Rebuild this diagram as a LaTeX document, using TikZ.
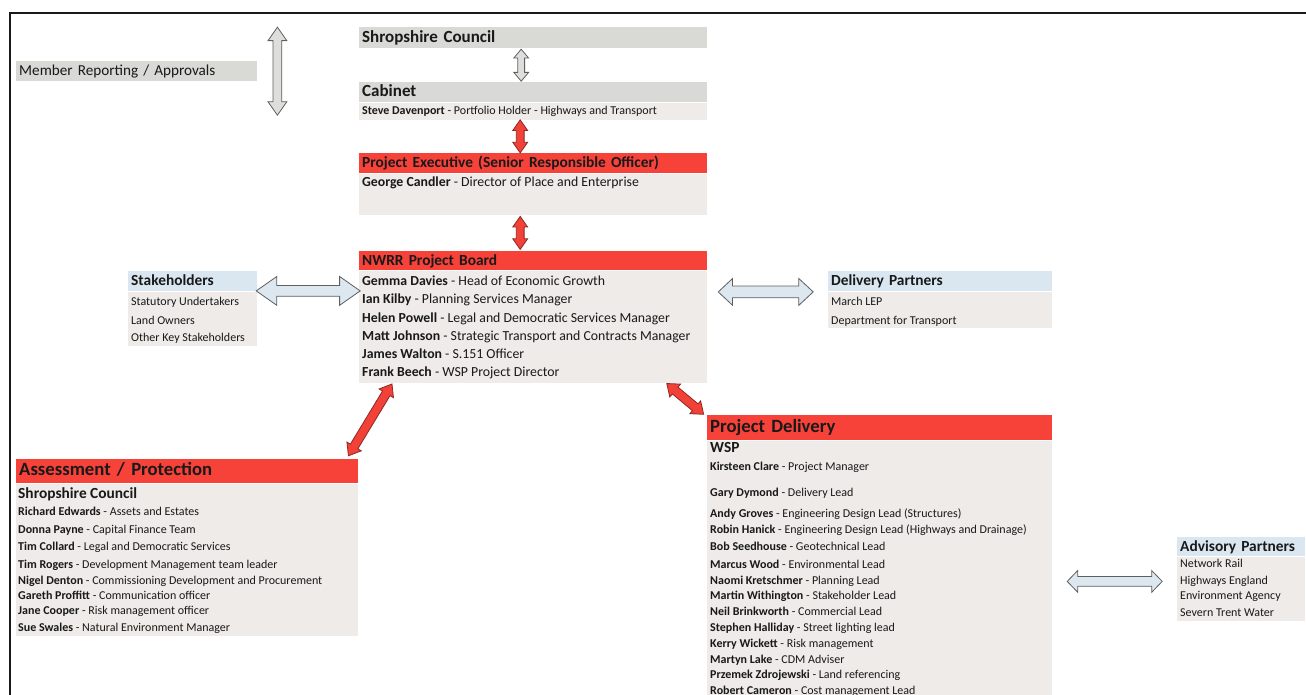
\documentclass[tikz,border=0pt]{standalone}
\usepackage{fontspec}
\setmainfont{Carlito}
\usetikzlibrary{shapes.arrows,calc,positioning}

\definecolor{hdrred}{RGB}{247,66,58}
\definecolor{hdrgray}{RGB}{217,217,214}
\definecolor{hdrblue}{RGB}{218,231,241}
\definecolor{bodygray}{RGB}{238,235,232}
\definecolor{arrred}{RGB}{242,66,56}
\definecolor{arrredline}{RGB}{140,40,35}
\definecolor{arrgray}{RGB}{222,222,220}
\definecolor{arrblue}{RGB}{220,231,240}
\definecolor{arrline}{RGB}{95,95,95}
\definecolor{ink}{RGB}{25,25,25}

\newcommand{\who}[2]{\textbf{#1} - #2}

\tikzset{
  hdr/.style={anchor=north west, inner xsep=3pt, inner ysep=0pt, text height=0.92em, text depth=0pt, align=left, text=ink},
  body/.style={anchor=north west, fill=bodygray, inner sep=0pt},
  entry/.style={anchor=west, inner sep=0pt, text height=0.8em, text depth=0pt, text=ink},
  ftop/.style={font=\fontsize{17}{20}\selectfont\bfseries},
  fbig/.style={font=\fontsize{18.7}{22}\selectfont\bfseries},
  fhead/.style={font=\fontsize{15.4}{18}\selectfont\bfseries},
  fmid/.style={font=\fontsize{13.8}{16}\selectfont},
  fsmall/.style={font=\fontsize{12}{14}\selectfont},
  blockarrow/.style={double arrow, inner xsep=0pt, minimum width=0pt, line width=0.8pt},
  grayarrow/.style={blockarrow, fill=arrgray, draw=arrline},
  redarrow/.style={blockarrow, fill=arrred, draw=arrredline},
  bluearrow/.style={blockarrow, fill=arrblue, draw=arrline}
}

\begin{document}
\begin{tikzpicture}[x=1pt,y=-1pt]
\useasboundingbox (0,0) rectangle (1306,695);
\draw[line width=1.6pt, ink] (10,695) -- (10,13) -- (1306,13);

% governance column
\node[hdr, fill=hdrgray, text width=235pt, minimum height=20pt, font=\fontsize{15.2}{18}\selectfont] (member) at (16,61) {Member Reporting / Approvals};
\node[hdr, ftop, fill=hdrgray, text width=342pt, minimum height=21pt] (council) at (359,27) {Shropshire Council};
\node[hdr, ftop, fill=hdrgray, text width=342pt, minimum height=20pt] (cabinet) at (359,82) {Cabinet};
\node[body, minimum width=348pt, minimum height=17pt] (cabbody) at (cabinet.south west) {};
\node[entry, fsmall] (cab1) at (362,111) {\who{Steve Davenport}{Portfolio Holder - Highways and Transport}};

\node[hdr, fhead, fill=hdrred, text width=342pt, minimum height=20pt] (pe) at (359,153) {Project Executive (Senior Responsible Officer)};
\node[body, minimum width=348pt, minimum height=41pt] (pebody) at (pe.south west) {};
\node[entry, fmid] (pe1) at (362,183) {\who{George Candler}{Director of Place and Enterprise}};

% project board
\node[hdr, fhead, fill=hdrred, text width=342pt, minimum height=19pt] (board) at (359,251) {NWRR Project Board};
\node[body, minimum width=348pt, minimum height=112pt] (pbbody) at (board.south west) {};
\node[entry, fmid] (pb1) at (362,281) {\who{Gemma Davies}{Head of Economic Growth}};
\node[entry, fmid] (pb2) at (362,299) {\who{Ian Kilby}{Planning Services Manager}};
\node[entry, fmid] (pb3) at (362,318) {\who{Helen Powell}{Legal and Democratic Services Manager}};
\node[entry, fmid] (pb4) at (362,336) {\who{Matt Johnson}{Strategic Transport and Contracts Manager}};
\node[entry, fmid] (pb5) at (362,354) {\who{James Walton}{S.151 Officer}};
\node[entry, fmid] (pb6) at (362,372) {\who{Frank Beech}{WSP Project Director}};

% stakeholders
\node[hdr, fhead, fill=hdrblue, text width=123pt, minimum height=20pt] (stake) at (128,271) {Stakeholders};
\node[body, minimum width=129pt, minimum height=54pt] (shbody) at (stake.south west) {};
\node[entry, fsmall] (sh1) at (131,301) {Statutory Undertakers};
\node[entry, fsmall] (sh2) at (131,320) {Land Owners};
\node[entry, fsmall] (sh3) at (131,337) {Other Key Stakeholders};

% delivery partners
\node[hdr, fhead, fill=hdrblue, text width=218pt, minimum height=20pt] (deliv) at (828,271) {Delivery Partners};
\node[body, minimum width=224pt, minimum height=36pt] (dpbody) at (deliv.south west) {};
\node[entry, fsmall] (dp1) at (831,301) {March LEP};
\node[entry, fsmall] (dp2) at (831,320) {Department for Transport};

% assessment / protection
\node[hdr, fbig, fill=hdrred, text width=336pt, minimum height=24pt] (ap) at (16,459) {Assessment / Protection};
\node[body, minimum width=342pt, minimum height=152pt] (apbody) at (ap.south west) {};
\node[entry, fhead] (ap0) at (18,494) {Shropshire Council};
\node[entry, fsmall] (ap1) at (18,511) {\who{Richard Edwards}{Assets and Estates}};
\node[entry, fsmall] (ap2) at (18,529) {\who{Donna Payne}{Capital Finance Team}};
\node[entry, fsmall] (ap3) at (18,546) {\who{Tim Collard}{Legal and Democratic Services}};
\node[entry, fsmall] (ap4) at (18,564) {\who{Tim Rogers}{Development Management team leader}};
\node[entry, fsmall] (ap5) at (18,580) {\who{Nigel Denton}{Commissioning Development and Procurement}};
\node[entry, fsmall] (ap6) at (18,595) {\who{Gareth Proffitt}{Communication officer}};
\node[entry, fsmall] (ap7) at (18,610) {\who{Jane Cooper}{Risk management officer}};
\node[entry, fsmall] (ap8) at (18,627) {\who{Sue Swales}{Natural Environment Manager}};

% project delivery
\node[hdr, fbig, fill=hdrred, text width=339pt, minimum height=25pt] (pd) at (707,415) {Project Delivery};
\node[body, minimum width=345pt, minimum height=256pt] (pdbody) at (pd.south west) {};
\node[entry, fhead] (pd0) at (710,448) {WSP};
\node[entry, fsmall] (pd1) at (710,466) {\who{Kirsteen Clare}{Project Manager}};
\node[entry, fsmall] (pd2) at (710,492) {\who{Gary Dymond}{Delivery Lead}};
\node[entry, fsmall] (pd3) at (710,513) {\who{Andy Groves}{Engineering Design Lead (Structures)}};
\node[entry, fsmall] (pd4) at (710,529) {\who{Robin Hanick}{Engineering Design Lead (Highways and Drainage)}};
\node[entry, fsmall] (pd5) at (710,546) {\who{Bob Seedhouse}{Geotechnical Lead}};
\node[entry, fsmall] (pd6) at (710,564) {\who{Marcus Wood}{Environmental Lead}};
\node[entry, fsmall] (pd7) at (710,580) {\who{Naomi Kretschmer}{Planning Lead}};
\node[entry, fsmall] (pd8) at (710,595) {\who{Martin Withington}{Stakeholder Lead}};
\node[entry, fsmall] (pd9) at (710,611) {\who{Neil Brinkworth}{Commercial Lead}};
\node[entry, fsmall] (pd10) at (710,627) {\who{Stephen Halliday}{Street lighting lead}};
\node[entry, fsmall] (pd11) at (710,643) {\who{Kerry Wickett}{Risk management}};
\node[entry, fsmall] (pd12) at (710,659) {\who{Martyn Lake}{CDM Adviser}};
\node[entry, fsmall] (pd13) at (710,674) {\who{Przemek Zdrojewski}{Land referencing}};
\node[entry, fsmall] (pd14) at (710,690) {\who{Robert Cameron}{Cost management Lead}};

% advisory partners
\node[hdr, fhead, fill=hdrblue, text width=122pt, minimum height=19pt] (adv) at (1177,537) {Advisory Partners};
\node[body, minimum width=128pt, minimum height=64pt] (advbody) at (adv.south west) {};
\node[entry, fsmall] (adv1) at (1180,563) {Network Rail};
\node[entry, fsmall] (adv2) at (1180,580) {Highways England};
\node[entry, fsmall] (adv3) at (1180,595) {Environment Agency};
\node[entry, fsmall] (adv4) at (1180,612) {Severn Trent Water};

% block arrows
\node[grayarrow, rotate=90, minimum height=88pt, inner ysep=4pt, double arrow head extend=5pt, double arrow tip angle=70] (arrmember) at ($(member.east)+(20,0)$) {};
\node[grayarrow, rotate=90, minimum height=32pt, inner ysep=3pt, double arrow head extend=4pt, double arrow tip angle=80] (arrcouncil) at ($(council.south)!0.5!(cabinet.north)+(-12,0)$) {};
\node[redarrow, rotate=90, minimum height=33pt, inner ysep=3.5pt, double arrow head extend=3.5pt, double arrow tip angle=70] (arrcabinet) at ($(cabbody.south)!0.5!(pe.north)+(-13,0)$) {};
\node[redarrow, rotate=90, minimum height=33pt, inner ysep=3.5pt, double arrow head extend=3.5pt, double arrow tip angle=70] (arrpe) at ($(pebody.south)!0.5!(board.north)+(-13,0)$) {};
\node[bluearrow, minimum height=104pt, inner ysep=5pt, double arrow head extend=9pt, double arrow tip angle=70] (arrstake) at ($(shbody.north east)!0.5!(pbbody.north west)+(0,10)$) {};
\node[bluearrow, minimum height=95pt, inner ysep=5.5pt, double arrow head extend=7.5pt, double arrow tip angle=86] (arrdeliv) at ($(pbbody.north east)!0.5!(dpbody.north west)+(-2,11)$) {};
\node[bluearrow, minimum height=95pt, inner ysep=4.5pt, double arrow head extend=6pt, double arrow tip angle=92] (arradv) at ($(pdbody.east |- advbody.north)!0.5!(advbody.north west)+(0,25)$) {};
\node[redarrow, rotate=58.8, minimum height=84pt, inner ysep=4pt, double arrow head extend=4pt, double arrow tip angle=75] (arrap) at ($(pbbody.south west)!0.5!(ap.north east)+(11.5,-1)$) {};
\node[redarrow, rotate=-39.8, minimum height=48pt, inner ysep=4pt, double arrow head extend=4pt, double arrow tip angle=75] (arrpd) at ($(pbbody.south east)!0.5!(pd.north west)+(-22,0)$) {};
\end{tikzpicture}
\end{document}
